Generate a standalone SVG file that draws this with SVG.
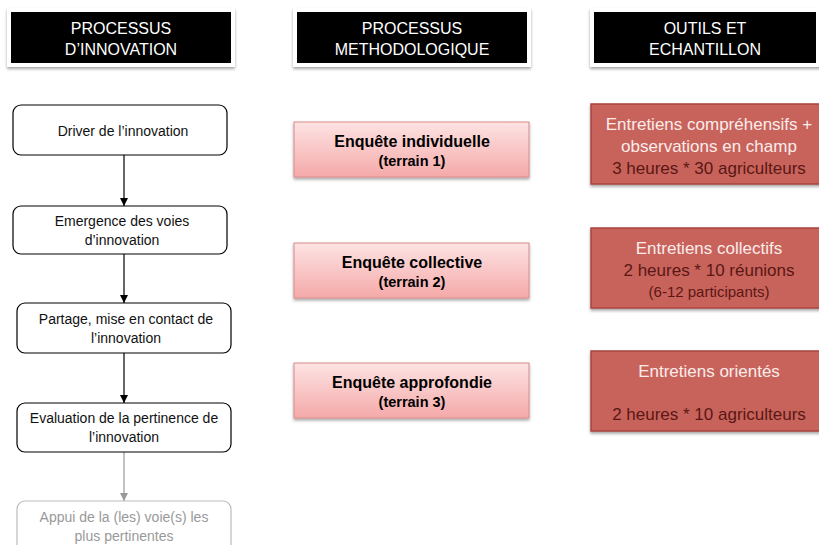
<svg xmlns="http://www.w3.org/2000/svg" width="819" height="545" viewBox="0 0 819 545">
<defs>
<linearGradient id="pink" x1="0" y1="0" x2="0" y2="1">
<stop offset="0" stop-color="#fde3e3"/>
<stop offset="1" stop-color="#f5a9a9"/>
</linearGradient>
<filter id="sh" x="-10%" y="-20%" width="120%" height="150%">
<feDropShadow dx="0" dy="2" stdDeviation="1.5" flood-color="#000" flood-opacity="0.35"/>
</filter>
<marker id="ah" viewBox="0 0 10 10" refX="10" refY="5" markerWidth="8" markerHeight="8" markerUnits="userSpaceOnUse" orient="auto">
<path d="M0,0 L10,5 L0,10 z" fill="#000"/>
</marker>
<marker id="ahg" viewBox="0 0 10 10" refX="10" refY="5" markerWidth="8" markerHeight="8" markerUnits="userSpaceOnUse" orient="auto">
<path d="M0,0 L10,5 L0,10 z" fill="#999"/>
</marker>
</defs>
<style>
text { font-family: "Liberation Sans", Arial, sans-serif; text-anchor: middle; }
.hdr-out { fill: #fff; filter: url(#sh); }
.hdr { fill: #000; }
.hdr-t { fill: #fff; font-size: 16px; }
.step { fill: #fff; stroke: #000; stroke-width: 1.2; }
.step-t { fill: #111; font-size: 14px; }
.stepg { fill: #fff; stroke: #bbb; stroke-width: 1.2; }
.stepg-t { fill: #999; font-size: 14px; }
.meth { fill: url(#pink); stroke: #d98a8a; stroke-width: 1; filter: url(#sh); }
.meth-t1 { fill: #000; font-size: 16px; font-weight: bold; }
.meth-t2 { fill: #000; font-size: 14.5px; font-weight: bold; }
.tool { fill: #c8645c; stroke: #a8443c; stroke-width: 1.5; filter: url(#sh); }
.tool-w { fill: #fbecea; font-size: 17px; }
.tool-d { fill: #5a1713; font-size: 17px; }
.tool-ds { fill: #5a1713; font-size: 15px; }
.conn { stroke: #000; stroke-width: 1.2; fill: none; }
.conng { stroke: #999; stroke-width: 1.2; fill: none; }
</style>

<g id="header-innovation">
<rect class="hdr-out" x="7" y="8" width="228" height="59"/>
<rect class="hdr" x="11" y="12" width="220" height="51"/>
<text class="hdr-t" x="121" y="34">PROCESSUS</text>
<text class="hdr-t" x="121" y="55">D’INNOVATION</text>
</g>
<g id="header-methodo">
<rect class="hdr-out" x="293" y="8" width="238" height="59"/>
<rect class="hdr" x="297" y="12" width="230" height="51"/>
<text class="hdr-t" x="412" y="34">PROCESSUS</text>
<text class="hdr-t" x="412" y="55">METHODOLOGIQUE</text>
</g>
<g id="header-outils">
<rect class="hdr-out" x="590" y="8" width="232" height="59"/>
<rect class="hdr" x="594" y="12" width="222" height="51"/>
<text class="hdr-t" x="705" y="34">OUTILS ET</text>
<text class="hdr-t" x="705" y="55">ECHANTILLON</text>
</g>

<g id="connectors">
<line class="conn" x1="124" y1="155" x2="124" y2="206" marker-end="url(#ah)"/>
<line class="conn" x1="124" y1="254" x2="124" y2="303" marker-end="url(#ah)"/>
<line class="conn" x1="124" y1="353" x2="124" y2="403" marker-end="url(#ah)"/>
<line class="conng" x1="124" y1="452" x2="124" y2="501" marker-end="url(#ahg)"/>
</g>

<g id="step-driver">
<rect class="step" x="13" y="105" width="214" height="50" rx="8"/>
<text class="step-t" x="123" y="136">Driver de l’innovation</text>
</g>
<g id="step-emergence">
<rect class="step" x="13" y="206" width="214" height="48" rx="8"/>
<text class="step-t" x="122" y="226">Emergence des voies</text>
<text class="step-t" x="122" y="245">d’innovation</text>
</g>
<g id="step-partage">
<rect class="step" x="17" y="303" width="214" height="50" rx="8"/>
<text class="step-t" x="126" y="324">Partage, mise en contact de</text>
<text class="step-t" x="126" y="343">l’innovation</text>
</g>
<g id="step-evaluation">
<rect class="step" x="17" y="403" width="214" height="49" rx="8"/>
<text class="step-t" x="124" y="423">Evaluation de la pertinence de</text>
<text class="step-t" x="124" y="442">l’innovation</text>
</g>
<g id="step-appui">
<rect class="stepg" x="17" y="501" width="214" height="60" rx="8"/>
<text class="stepg-t" x="124" y="522">Appui de la (les) voie(s) les</text>
<text class="stepg-t" x="124" y="541">plus pertinentes</text>
</g>

<g id="meth-individuelle">
<rect class="meth" x="294" y="122" width="235" height="55"/>
<text class="meth-t1" x="412" y="147">Enquête individuelle</text>
<text class="meth-t2" x="412" y="166">(terrain 1)</text>
</g>
<g id="meth-collective">
<rect class="meth" x="294" y="243" width="235" height="55"/>
<text class="meth-t1" x="412" y="268">Enquête collective</text>
<text class="meth-t2" x="412" y="287">(terrain 2)</text>
</g>
<g id="meth-approfondie">
<rect class="meth" x="294" y="363" width="235" height="55"/>
<text class="meth-t1" x="412" y="388">Enquête approfondie</text>
<text class="meth-t2" x="412" y="407">(terrain 3)</text>
</g>

<g id="tool-comprehensifs">
<rect class="tool" x="591" y="104" width="235" height="80"/>
<text class="tool-w" x="709" y="130">Entretiens compréhensifs +</text>
<text class="tool-w" x="709" y="152">observations en champ</text>
<text class="tool-d" x="709" y="174">3 heures * 30 agriculteurs</text>
</g>
<g id="tool-collectifs">
<rect class="tool" x="591" y="228" width="235" height="80"/>
<text class="tool-w" x="709" y="254">Entretiens collectifs</text>
<text class="tool-d" x="709" y="276">2 heures * 10 réunions</text>
<text class="tool-ds" x="709" y="297">(6-12 participants)</text>
</g>
<g id="tool-orientes">
<rect class="tool" x="591" y="351" width="235" height="80"/>
<text class="tool-w" x="709" y="377">Entretiens orientés</text>
<text class="tool-d" x="709" y="420">2 heures * 10 agriculteurs</text>
</g>
</svg>
